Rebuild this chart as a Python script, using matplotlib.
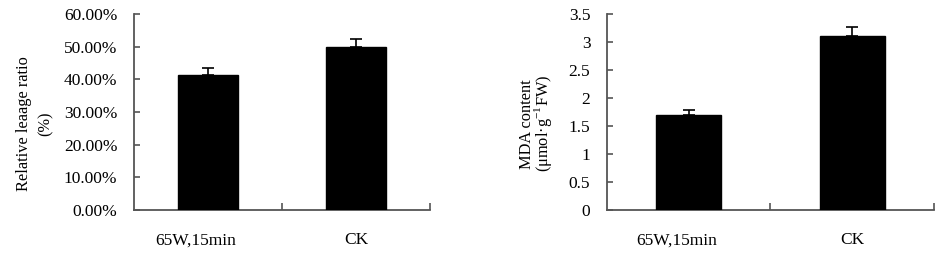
import matplotlib
matplotlib.use("Agg")
import matplotlib.pyplot as plt
from matplotlib.ticker import FuncFormatter
from matplotlib.transforms import ScaledTranslation

plt.rcParams['font.family'] = ['Liberation Serif', 'DejaVu Serif']
plt.rcParams['mathtext.fontset'] = 'custom'
plt.rcParams['mathtext.rm'] = 'Liberation Serif'

categories = ["65W,15min", "CK"]
leakage = [41.3, 49.8]
leakage_err = [2.3, 2.6]
mda = [1.69, 3.11]
mda_err = [0.10, 0.16]

fig = plt.figure(figsize=(9.37, 2.59), dpi=100)
ax1 = fig.add_axes([134/937, 49/259, 296/937, 196/259])
ax2 = fig.add_axes([607/937, 49/259, 327/937, 196/259])

spine_col = '#555555'
fs = 12.5
lfs = 11.8

for ax, vals, errs, ymax, step, fmt, ylabel, ls in [
    (ax1, leakage, leakage_err, 60, 10, lambda v, p: f"{v:.2f}%", "Relative leaage ratio\n(%)", 1.45),
    (ax2, mda, mda_err, 3.5, 0.5, lambda v, p: f"{v:g}", "MDA content\n(μmol·g$^{\\mathregular{-1}}$FW)", 0.78),
]:
    x = list(range(len(categories)))
    ax.bar(x, vals, width=0.4, color='black', edgecolor='black', zorder=3)
    ax.errorbar(x, vals, yerr=[[0]*len(errs), errs], fmt='none', ecolor='black',
                elinewidth=1.2, capsize=4, capthick=1.2, zorder=4)
    ax.set_xlim(-0.5, len(categories) - 0.5)
    ax.set_ylim(0, ymax)
    ticks = [i * step for i in range(int(round(ymax / step)) + 1)]
    ax.set_yticks(ticks)
    ax.yaxis.set_major_formatter(FuncFormatter(fmt))
    ax.set_xticks([i + 0.5 for i in range(len(categories))])
    ax.set_xticklabels([])
    ax.set_xticks(x, minor=True)
    ax.set_xticklabels(categories, minor=True)
    ax.tick_params(axis='x', which='major', direction='in', length=5, color=spine_col, width=1.2)
    ax.tick_params(axis='x', which='minor', length=0, pad=16, labelsize=fs)
    ax.tick_params(axis='y', direction='in', length=4, color=spine_col, width=1.2, labelsize=fs, pad=12)
    for s in ['top', 'right']:
        ax.spines[s].set_visible(False)
    for s in ['left', 'bottom']:
        ax.spines[s].set_color(spine_col)
        ax.spines[s].set_linewidth(1.3)
    ax.set_ylabel(ylabel, fontsize=lfs, linespacing=ls)
    # first category label sits slightly left of its bar in the reference
    lab = ax.get_xticklabels(minor=True)[0]
    lab.set_transform(lab.get_transform() + ScaledTranslation(-12/100, 0, fig.dpi_scale_trans))

ax1.yaxis.set_label_coords(-0.272, 0.44)
ax2.yaxis.set_label_coords(-0.163, 0.44)

fig.savefig("out.png", dpi=100)
